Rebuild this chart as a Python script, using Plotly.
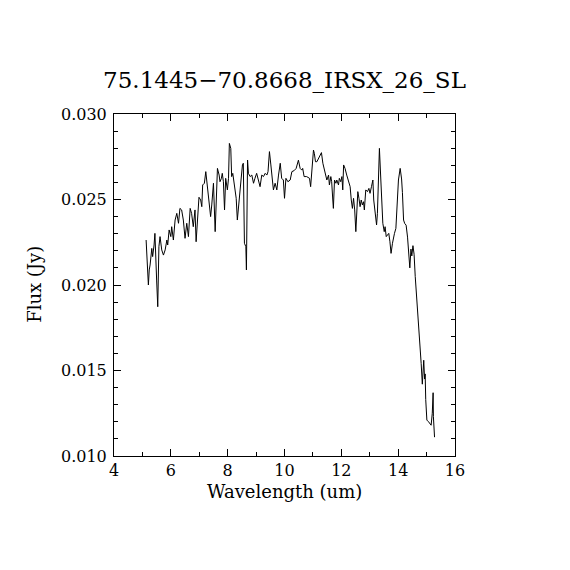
import plotly.graph_objects as go

# IRS SL spectrum
wavelength = [
    5.13, 5.21, 5.24, 5.27, 5.33, 5.36, 5.41, 5.44, 5.50, 5.54, 5.58, 5.62, 5.68, 5.74, 5.80,
    5.86, 5.89, 5.94, 6.00, 6.03, 6.09, 6.15, 6.21, 6.27, 6.32, 6.38, 6.44, 6.50, 6.56, 6.62,
    6.68, 6.73, 6.79, 6.85, 6.89, 6.95, 6.99, 7.05, 7.09, 7.12, 7.18, 7.23, 7.29, 7.32, 7.36,
    7.40, 7.44, 7.50, 7.56, 7.59, 7.64, 7.70, 7.73, 7.78, 7.81, 7.85, 7.89, 7.93, 7.99, 8.03,
    8.06, 8.11, 8.14, 8.18, 8.23, 8.26, 8.30, 8.34, 8.38, 8.44, 8.47, 8.52, 8.55, 8.59, 8.64,
    8.66, 8.70, 8.73, 8.79, 8.85, 8.91, 8.96, 9.02, 9.08, 9.14, 9.20, 9.26, 9.32, 9.38, 9.42,
    9.47, 9.52, 9.58, 9.61, 9.67, 9.73, 9.79, 9.85, 9.90, 9.96, 10.00, 10.05, 10.12, 10.20,
    10.26, 10.34, 10.41, 10.49, 10.55, 10.61, 10.64, 10.69, 10.78, 10.88, 10.92, 10.97, 11.02,
    11.05, 11.09, 11.14, 11.19, 11.25, 11.30, 11.35, 11.39, 11.45, 11.49, 11.55, 11.58, 11.63,
    11.66, 11.70, 11.72, 11.76, 11.81, 11.84, 11.90, 11.93, 11.98, 12.02, 12.05, 12.08, 12.13,
    12.19, 12.25, 12.31, 12.35, 12.39, 12.43, 12.47, 12.51, 12.54, 12.58, 12.62, 12.66, 12.70,
    12.74, 12.78, 12.81, 12.86, 12.92, 12.97, 13.01, 13.06, 13.11, 13.14, 13.19, 13.24, 13.27,
    13.31, 13.34, 13.39, 13.42, 13.46, 13.51, 13.54, 13.58, 13.62, 13.67, 13.71, 13.75, 13.80,
    13.84, 13.87, 13.92, 13.95, 14.01, 14.07, 14.12, 14.15, 14.19, 14.23, 14.28, 14.33, 14.38,
    14.41, 14.45, 14.48, 14.52, 14.56, 14.60, 14.66, 14.72, 14.77, 14.81, 14.85, 14.87, 14.90,
    14.93, 14.95, 14.97, 15.01, 15.07, 15.13, 15.16, 15.20, 15.23, 15.24, 15.28,
]
flux = [
    0.02263, 0.02000, 0.02088, 0.02117, 0.02214, 0.02166, 0.02234, 0.02302, 0.02029, 0.01873,
    0.02224, 0.02283, 0.02205, 0.02175, 0.02205, 0.02263, 0.02234, 0.02322, 0.02283, 0.02341,
    0.02263, 0.02380, 0.02419, 0.02361, 0.02448, 0.02439, 0.02380, 0.02273, 0.02361, 0.02283,
    0.02448, 0.02419, 0.02341, 0.02439, 0.02253, 0.02439, 0.02513, 0.02497, 0.02458, 0.02585,
    0.02595, 0.02663, 0.02575, 0.02507, 0.02468, 0.02400, 0.02468, 0.02595, 0.02312, 0.02458,
    0.02682, 0.02643, 0.02604, 0.02624, 0.02653, 0.02604, 0.02439, 0.02624, 0.02556, 0.02624,
    0.02828, 0.02799, 0.02634, 0.02653, 0.02585, 0.02556, 0.02507, 0.02380, 0.02468, 0.02575,
    0.02614, 0.02702, 0.02712, 0.02244, 0.02224, 0.02088, 0.02731, 0.02653, 0.02634, 0.02643,
    0.02595, 0.02624, 0.02653, 0.02614, 0.02575, 0.02643, 0.02634, 0.02653, 0.02643, 0.02663,
    0.02780, 0.02702, 0.02604, 0.02556, 0.02595, 0.02556, 0.02643, 0.02712, 0.02624, 0.02614,
    0.02507, 0.02624, 0.02604, 0.02614, 0.02663, 0.02669, 0.02682, 0.02730, 0.02682, 0.02672,
    0.02682, 0.02634, 0.02634, 0.02624, 0.02575, 0.02663, 0.02789, 0.02770, 0.02721, 0.02721,
    0.02741, 0.02760, 0.02774, 0.02712, 0.02682, 0.02653, 0.02614, 0.02643, 0.02585, 0.02634,
    0.02604, 0.02497, 0.02448, 0.02614, 0.02595, 0.02614, 0.02585, 0.02624, 0.02604, 0.02634,
    0.02556, 0.02702, 0.02682, 0.02643, 0.02614, 0.02575, 0.02497, 0.02448, 0.02507, 0.02439,
    0.02312, 0.02419, 0.02546, 0.02507, 0.02458, 0.02497, 0.02468, 0.02487, 0.02439, 0.02556,
    0.02546, 0.02565, 0.02536, 0.02575, 0.02614, 0.02497, 0.02439, 0.02351, 0.02419, 0.02702,
    0.02799, 0.02614, 0.02497, 0.02361, 0.02312, 0.02341, 0.02283, 0.02292, 0.02302, 0.02253,
    0.02185, 0.02244, 0.02283, 0.02302, 0.02331, 0.02458, 0.02614, 0.02682, 0.02620, 0.02540,
    0.02380, 0.02360, 0.02350, 0.02280, 0.02170, 0.02100, 0.02210, 0.02170, 0.02230, 0.02180,
    0.02050, 0.01920, 0.01780, 0.01660, 0.01540, 0.01420, 0.01520, 0.01560, 0.01450, 0.01480,
    0.01330, 0.01210, 0.01200, 0.01190, 0.01180, 0.01250, 0.01370, 0.01230, 0.01110,
]

title = "75.1445\u221270.8668_IRSX_26_SL"
x_title = "Wavelength (um)"
y_title = "Flux (Jy)"
font = "DejaVu Serif"

fig = go.Figure()
fig.add_trace(go.Scatter(x=wavelength, y=flux, mode="lines",
                         line=dict(color="black", width=1), showlegend=False))

axis_style = dict(showline=True, linecolor="black", linewidth=1, mirror="allticks",
                  ticks="inside", ticklen=7, tickcolor="black", tickwidth=1,
                  showgrid=False, zeroline=False,
                  tickfont=dict(family=font, size=16, color="black"))

fig.update_xaxes(range=[4, 16], dtick=2, tick0=4,
                 minor=dict(ticks="inside", ticklen=4, dtick=1, tickcolor="black", showgrid=False),
                 **axis_style)
fig.update_yaxes(range=[0.010, 0.030], dtick=0.005, tick0=0.010, tickformat=".3f",
                 ticklabelstandoff=3,
                 minor=dict(ticks="inside", ticklen=4, dtick=0.001, tickcolor="black", showgrid=False),
                 **axis_style)

# axis titles placed as annotations to sit tight to the tick labels, as in the original
fig.add_annotation(text=x_title, xref="paper", yref="paper", x=0.5, y=-0.103,
                   xanchor="center", yanchor="middle", showarrow=False,
                   font=dict(family=font, size=18, color="black"))
fig.add_annotation(text=y_title, xref="paper", yref="paper", x=-0.232, y=0.503,
                   xanchor="center", yanchor="middle", showarrow=False, textangle=-90,
                   font=dict(family=font, size=18, color="black"))

fig.update_layout(
    width=570, height=570,
    margin=dict(l=106, r=123, t=106, b=122),
    paper_bgcolor="white", plot_bgcolor="white",
    title=dict(text=title, xref="paper", x=0.5, xanchor="center",
               y=1 - 72 / 570, yanchor="middle",
               font=dict(family=font, size=23, color="black")),
)

fig.write_html("out.html")
